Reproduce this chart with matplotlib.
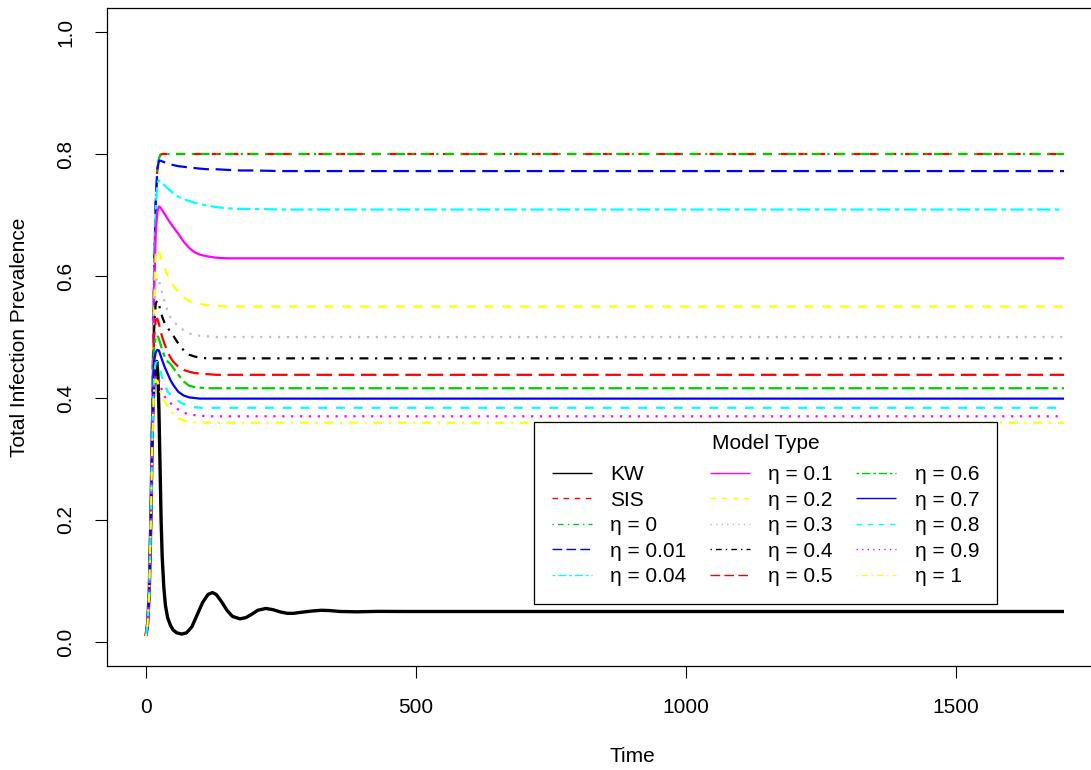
import matplotlib
matplotlib.use('Agg')
import matplotlib.pyplot as plt
from matplotlib.lines import Line2D

plt.rcParams['font.family'] = ['Liberation Sans', 'DejaVu Sans']
plt.rcParams['font.size'] = 15
plt.rcParams['lines.solid_capstyle'] = 'butt'
plt.rcParams['lines.dash_capstyle'] = 'butt'

# R's old default palette and line types
C_BLACK = 'black'
C_RED = '#FF0000'
C_GREEN = '#00CD00'
C_BLUE = '#0000FF'
C_CYAN = '#00FFFF'
C_MAGENTA = '#FF00FF'
C_YELLOW = '#FFFF00'
C_GRAY = '#BEBEBE'

SOLID = '-'
DASHED = (0, (4, 4))
DOTTED = (0, (1, 3))
DOTDASH = (0, (1, 3, 4, 3))
LONGDASH = (0, (7, 3))
TWODASH = (0, (2, 2, 6, 2))

# ---- data ----
t_kw = [0, 3, 6, 9, 12, 15, 18, 20, 22, 24, 26, 28, 30, 33, 36, 40, 45, 50, 57,
        66, 75, 85, 95, 105, 115, 123, 130, 140, 150, 160, 174, 185, 195, 207,
        222, 235, 250, 262, 273, 290, 310, 325, 340, 360, 390, 430, 480, 550, 1700]
kw = [0.01, 0.03, 0.08, 0.20, 0.36, 0.43, 0.455, 0.46, 0.44, 0.38, 0.29, 0.20,
      0.14, 0.09, 0.06, 0.04, 0.028, 0.02, 0.015, 0.013, 0.015, 0.025, 0.045,
      0.065, 0.078, 0.081, 0.078, 0.066, 0.052, 0.042, 0.038, 0.040, 0.045,
      0.052, 0.055, 0.053, 0.049, 0.047, 0.047, 0.049, 0.051, 0.052, 0.0515,
      0.050, 0.0495, 0.0502, 0.050, 0.050, 0.050]

t_eta = [0, 3, 6, 9, 12, 15, 18, 21, 24, 27, 30, 35, 40, 45, 50, 60, 70, 80,
         90, 100, 115, 130, 150, 175, 200, 250, 1700]
sis = [0.01, 0.03, 0.08, 0.20, 0.40, 0.60, 0.72, 0.775, 0.793, 0.799, 0.80,
       0.80, 0.80, 0.80, 0.80, 0.80, 0.80, 0.80, 0.80, 0.80, 0.80, 0.80, 0.80,
       0.80, 0.80, 0.80, 0.80]
eta_0 = [0.01, 0.03, 0.08, 0.20, 0.40, 0.60, 0.72, 0.775, 0.793, 0.799, 0.80,
         0.80, 0.80, 0.80, 0.80, 0.80, 0.80, 0.80, 0.80, 0.80, 0.80, 0.80, 0.80,
         0.80, 0.80, 0.80, 0.80]
eta_001 = [0.01, 0.03, 0.08, 0.20, 0.40, 0.60, 0.72, 0.775, 0.789, 0.789,
           0.788, 0.786, 0.784, 0.783, 0.782, 0.780, 0.779, 0.778, 0.777,
           0.776, 0.775, 0.775, 0.774, 0.773, 0.773, 0.772, 0.772]
eta_004 = [0.01, 0.03, 0.08, 0.20, 0.40, 0.59, 0.71, 0.752, 0.757, 0.755,
           0.752, 0.748, 0.744, 0.740, 0.736, 0.730, 0.726, 0.723, 0.720,
           0.718, 0.715, 0.713, 0.711, 0.710, 0.710, 0.709, 0.709]
eta_01 = [0.01, 0.03, 0.08, 0.20, 0.39, 0.57, 0.67, 0.705, 0.714, 0.712,
          0.708, 0.701, 0.694, 0.687, 0.681, 0.669, 0.656, 0.646, 0.639,
          0.635, 0.632, 0.630, 0.629, 0.629, 0.629, 0.629, 0.629]
eta_02 = [0.01, 0.03, 0.08, 0.20, 0.38, 0.55, 0.635, 0.645, 0.640, 0.632,
          0.624, 0.612, 0.601, 0.592, 0.585, 0.574, 0.565, 0.559, 0.556,
          0.554, 0.552, 0.551, 0.550, 0.550, 0.550, 0.550, 0.550]
eta_03 = [0.01, 0.03, 0.08, 0.20, 0.38, 0.53, 0.59, 0.598, 0.592, 0.582,
          0.572, 0.556, 0.543, 0.533, 0.526, 0.518, 0.511, 0.506, 0.503,
          0.502, 0.501, 0.500, 0.500, 0.500, 0.500, 0.500, 0.500]
eta_04 = [0.01, 0.03, 0.08, 0.20, 0.37, 0.51, 0.555, 0.560, 0.553, 0.543,
          0.533, 0.522, 0.515, 0.509, 0.503, 0.489, 0.478, 0.471, 0.468,
          0.466, 0.465, 0.465, 0.465, 0.465, 0.465, 0.465, 0.465]
eta_05 = [0.01, 0.03, 0.08, 0.20, 0.37, 0.50, 0.528, 0.530, 0.522, 0.510,
          0.500, 0.487, 0.476, 0.467, 0.460, 0.451, 0.446, 0.443, 0.441,
          0.440, 0.439, 0.438, 0.438, 0.438, 0.438, 0.438, 0.438]
eta_06 = [0.01, 0.03, 0.08, 0.20, 0.36, 0.48, 0.500, 0.503, 0.497, 0.488,
          0.479, 0.467, 0.460, 0.456, 0.450, 0.438, 0.427, 0.420, 0.418,
          0.417, 0.416, 0.416, 0.416, 0.416, 0.416, 0.416, 0.416]
eta_07 = [0.01, 0.03, 0.08, 0.20, 0.36, 0.46, 0.475, 0.479, 0.478, 0.470,
          0.462, 0.450, 0.440, 0.430, 0.422, 0.410, 0.404, 0.401, 0.400,
          0.399, 0.399, 0.399, 0.399, 0.399, 0.399, 0.399, 0.399]
eta_08 = [0.01, 0.03, 0.08, 0.20, 0.35, 0.44, 0.458, 0.459, 0.452, 0.443,
          0.434, 0.421, 0.411, 0.406, 0.403, 0.395, 0.390, 0.387, 0.385,
          0.384, 0.384, 0.384, 0.384, 0.384, 0.384, 0.384, 0.384]
eta_09 = [0.01, 0.03, 0.08, 0.20, 0.35, 0.425, 0.437, 0.437, 0.430, 0.420,
          0.412, 0.402, 0.396, 0.392, 0.388, 0.381, 0.376, 0.373, 0.372,
          0.371, 0.370, 0.370, 0.370, 0.370, 0.370, 0.370, 0.370]
eta_1 = [0.01, 0.03, 0.08, 0.20, 0.34, 0.415, 0.430, 0.428, 0.420, 0.410,
         0.402, 0.394, 0.386, 0.380, 0.375, 0.367, 0.363, 0.361, 0.360,
         0.360, 0.3595, 0.3595, 0.3595, 0.3595, 0.3595, 0.3595, 0.3595]

labels = ['KW', 'SIS', 'η = 0', 'η = 0.01', 'η = 0.04', 'η = 0.1', 'η = 0.2',
          'η = 0.3', 'η = 0.4', 'η = 0.5', 'η = 0.6', 'η = 0.7', 'η = 0.8',
          'η = 0.9', 'η = 1']
series = [kw, sis, eta_0, eta_001, eta_004, eta_01, eta_02, eta_03, eta_04,
          eta_05, eta_06, eta_07, eta_08, eta_09, eta_1]
colors = [C_BLACK, C_RED, C_GREEN, C_BLUE, C_CYAN, C_MAGENTA, C_YELLOW, C_GRAY,
          C_BLACK, C_RED, C_GREEN, C_BLUE, C_CYAN, C_MAGENTA, C_YELLOW]
styles = [SOLID, DASHED, DOTDASH, LONGDASH, TWODASH, SOLID, DASHED, DOTTED,
          DOTDASH, LONGDASH, TWODASH, SOLID, DASHED, DOTTED, DOTDASH]

# the original is cropped on the right: the plot box runs past the image edge
W, H = 1091, 770
fig = plt.figure(figsize=(W / 100, H / 100), dpi=100)
left, right, top, bottom = 107.1, 1156.9, 7.6, 666.4
ax = fig.add_axes([left / W, 1 - bottom / H, (right - left) / W, (bottom - top) / H])

for i, vals in enumerate(series):
    t = t_kw if i == 0 else t_eta
    lw = 2.4 if i == 0 else 1.6
    ax.plot(t, vals, color=colors[i], linestyle=styles[i], linewidth=lw)

ax.set_xlim(-72, 1872)
ax.set_ylim(-0.04, 1.04)
ax.set_xticks([0, 500, 1000, 1500])
ax.set_yticks([0.0, 0.2, 0.4, 0.6, 0.8, 1.0])
ax.set_yticklabels(['0.0', '0.2', '0.4', '0.6', '0.8', '1.0'], rotation=90, va='center')
ax.tick_params(direction='out', length=8.6, width=0.8, labelsize=15)
ax.tick_params(axis='x', pad=14)
ax.tick_params(axis='y', pad=14.5)
for sp in ax.spines.values():
    sp.set_linewidth(0.9)
    sp.set_color('black')

ax.set_xlabel('Time', fontsize=15)
ax.set_ylabel('Total Infection Prevalence', fontsize=15)
ax.xaxis.set_label_coords(0.5, -(757 - bottom) / (bottom - top))
ax.xaxis.label.set_va('center')
ax.yaxis.set_label_coords((20 - left) / (right - left), 0.5)
ax.yaxis.label.set_va('center')

handles = [Line2D([], [], color=c, linestyle=s, linewidth=1.0) for c, s in zip(colors, styles)]
leg = ax.legend(handles, labels, ncol=3, title='Model Type', loc='upper left',
                bbox_to_anchor=(534 / W, 1 - 422 / H), bbox_transform=fig.transFigure,
                frameon=True, fancybox=False, framealpha=1, edgecolor='black',
                fontsize=15, title_fontsize=15, handlelength=1.92, handletextpad=0.9,
                columnspacing=1.1, labelspacing=0.31, borderpad=0.85, borderaxespad=0)
leg.get_frame().set_linewidth(0.9)
leg.get_title().set_position((0, 6))  # lift the title a little, as in the original

fig.savefig('out.png', dpi=100)
